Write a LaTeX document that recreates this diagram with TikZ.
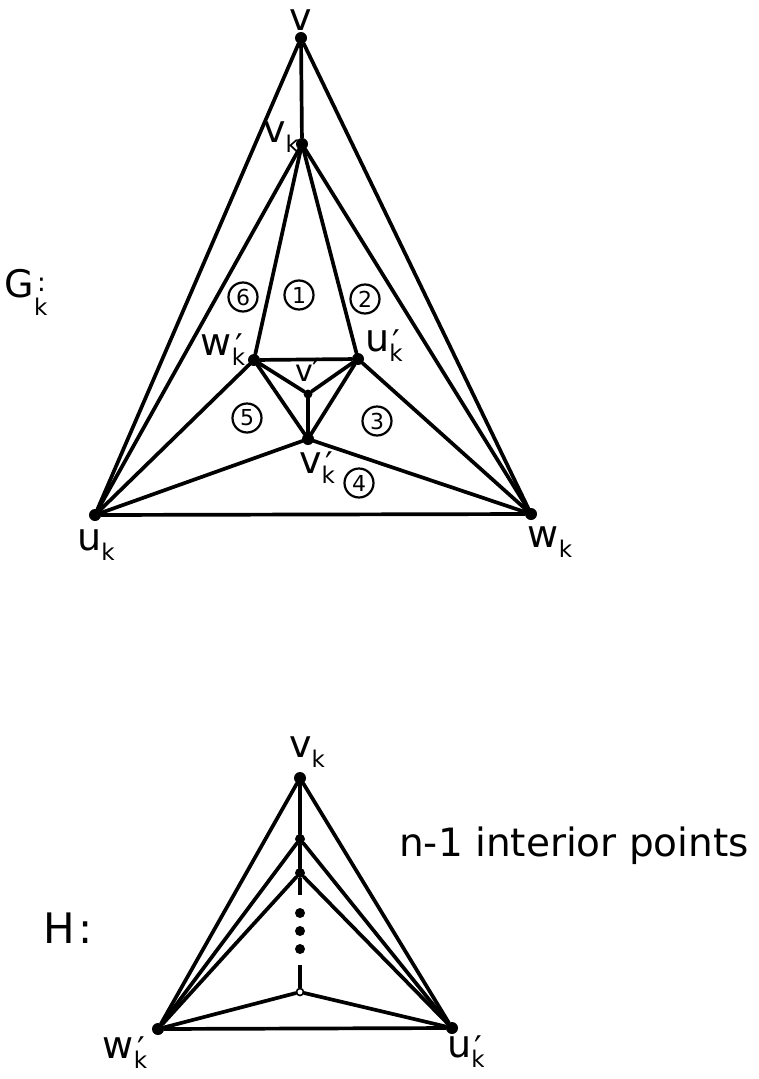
\documentclass[tikz,border=0pt]{standalone}
\usepackage{fontspec}
\setmainfont{DejaVu Sans}
\newcommand\lab[2]{#1\raisebox{-0.28em}{\fontsize{23}{23}\selectfont #2}}
\newcommand\labp[2]{#1\raisebox{-0.28em}{\fontsize{23}{23}\selectfont\makebox[0pt][l]{\hspace{3.5pt}\raisebox{7pt}{\fontsize{34}{34}\selectfont ′}}#2}}
\tikzset{
  dot/.style={circle,fill=black,inner sep=0pt,minimum size=12pt},
  sdot/.style={circle,fill=black,inner sep=0pt,minimum size=9pt},
  odot/.style={circle,draw=black,fill=white,line width=1.6pt,inner sep=0pt,minimum size=7pt},
  edge/.style={line width=3.7pt,line cap=round},
  lbl/.style={inner sep=0pt,font=\fontsize{38}{38}\selectfont},
  cnum/.style={circle,draw=black,line width=2.2pt,inner sep=0pt,minimum size=29pt,font=\fontsize{22}{22}\selectfont}
}
\begin{document}
\begin{tikzpicture}[x=1pt,y=-1pt]
\useasboundingbox (0,0) rectangle (759,1079);
% ---------- G_k ----------
\node[dot] (v) at (301,38) {};
\node[dot] (vk) at (302,144) {};
\node[dot] (uk) at (95,515) {};
\node[dot] (wk) at (531,514) {};
\node[dot] (wpk) at (254,360) {};
\node[dot] (upk) at (358,359) {};
\node[sdot] (vp) at (308,394) {};
\node[dot] (vpk) at (308,439) {};
\draw[edge] (v) -- (vk);
\draw[edge] (v) -- (uk);
\draw[edge] (v) -- (wk);
\draw[edge] (uk) -- (wk);
\draw[edge] (vk) -- (uk);
\draw[edge] (vk) -- (wk);
\draw[edge] (vk) -- (wpk);
\draw[edge] (vk) -- (upk);
\draw[edge] (wpk) -- (upk);
\draw[edge] (wpk) -- (vp);
\draw[edge] (upk) -- (vp);
\draw[edge] (vp) -- (vpk);
\draw[edge] (wpk) -- (vpk);
\draw[edge] (upk) -- (vpk);
\draw[edge] (uk) -- (wpk);
\draw[edge] (uk) -- (vpk);
\draw[edge] (wk) -- (upk);
\draw[edge] (wk) -- (vpk);
% labels
\node[lbl] (lv) at (301,20) {v};
\node[lbl] (lvk) at (281,137) {\lab{v}{k}};
\node[lbl] (luk) at (96,545) {\lab{u}{k}};
\node[lbl] (lwk) at (550,542) {\lab{w}{k}};
\node[lbl] (lwpk) at (223,350) {\labp{w}{k}};
\node[lbl] (lupk) at (384,346) {\labp{u}{k}};
\node[lbl,font=\fontsize{30}{30}\selectfont] (lvp) at (308,371) {v\raisebox{-3pt}{\fontsize{36}{36}\selectfont ′}};
\node[lbl] (lvpk) at (317,468) {\labp{v}{k}};
\node[lbl,font=\fontsize{38}{38}\selectfont] (lG) at (26,292) {G\makebox[0pt][l]{\hspace{3pt}\raisebox{6pt}{\fontsize{26}{26}\selectfont :}}\raisebox{-0.47em}{\fontsize{23}{23}\selectfont k}};
% circled numbers
\node[cnum] (c1) at (299,295) {1};
\node[cnum] (c2) at (365,299) {2};
\node[cnum] (c3) at (377,421) {3};
\node[cnum] (c4) at (359,483) {4};
\node[cnum] (c5) at (247,418) {5};
\node[cnum] (c6) at (243,297) {6};
% ---------- H ----------
\node[dot] (hv) at (300,778) {};
\node[sdot,minimum size=10pt] (h1) at (300,839) {};
\node[sdot,minimum size=10pt] (h2) at (300,873) {};
\coordinate (h2e) at (300,895);
\node[sdot,minimum size=10pt] (d1) at (300,913) {};
\node[sdot,minimum size=10pt] (d2) at (300,931) {};
\node[sdot,minimum size=10pt] (d3) at (300,949) {};
\coordinate (h3s) at (300,965);
\node[odot] (h3) at (300,992) {};
\node[dot] (hw) at (158,1029) {};
\node[dot] (hu) at (452,1028) {};
\draw[edge] (hv) -- (hw);
\draw[edge] (hv) -- (hu);
\draw[edge] (hw) -- (hu);
\draw[edge] (hv) -- (h1);
\draw[edge] (h1) -- (h2);
\draw[edge,line cap=butt] (h2) -- (h2e);
\draw[edge,line cap=butt] (h3s) -- (h3);
\draw[edge] (h1) -- (hw);
\draw[edge] (h1) -- (hu);
\draw[edge] (h2) -- (hw);
\draw[edge] (h2) -- (hu);
\draw[edge] (h3) -- (hw);
\draw[edge] (h3) -- (hu);
\node[lbl] (lhv) at (307,752) {\lab{v}{k}};
\node[lbl] (lhw) at (125,1053) {\labp{w}{k}};
\node[lbl] (lhu) at (466,1052) {\labp{u}{k}};
\node[lbl,font=\fontsize{42}{42}\selectfont] (lH) at (68,928) {H\hspace{0.1em}:};
\node[lbl,anchor=base west,font=\fontsize{39}{39}\selectfont] (lint) at (399,856) {n-1 interior points};
\end{tikzpicture}
\end{document}
